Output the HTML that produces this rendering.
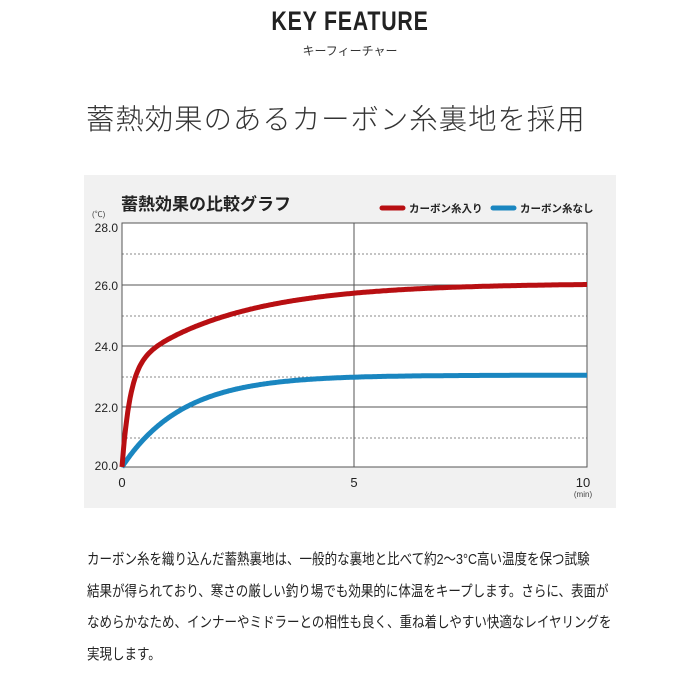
<!DOCTYPE html>
<html><head><meta charset="utf-8"><style>
html,body{margin:0;padding:0;background:#fff;width:700px;height:700px;overflow:hidden;font-family:"Liberation Sans","Noto Sans CJK JP",sans-serif;color:#222}
.t1{position:absolute;left:0;width:700px;top:6px;text-align:center;font-size:27px;font-weight:bold;letter-spacing:1px;transform:scaleX(0.79);color:#222}
.t2{position:absolute;left:0;width:700px;top:42px;text-align:center;font-size:12px;color:#333}
.h{position:absolute;left:86px;top:97px;font-size:28.4px;font-weight:300;color:#333;letter-spacing:1px;font-family:"Noto Sans CJK JP",sans-serif}
.p{position:absolute;left:87px;top:545px;font-size:14.8px;line-height:31.7px;color:#222;white-space:nowrap;transform:scaleX(0.845);transform-origin:0 0}
svg{position:absolute;left:0;top:0}
</style></head><body>
<div class="t1">KEY FEATURE</div>
<div class="t2">キーフィーチャー</div>
<div class="h">蓄熱効果のあるカーボン糸裏地を採用</div>
<svg width="700" height="700" font-family="Liberation Sans, Noto Sans CJK JP, sans-serif">
<rect x="84" y="175" width="532" height="333" fill="#f1f1f1"/>
<rect x="122" y="223" width="465" height="244" fill="#fff"/>
<g stroke="#888" stroke-dasharray="2,2" stroke-width="1">
<line x1="122" x2="587" y1="254" y2="254"/><line x1="122" x2="587" y1="316" y2="316"/>
<line x1="122" x2="587" y1="377" y2="377"/><line x1="122" x2="587" y1="438" y2="438"/></g>
<g stroke="#555" stroke-width="1">
<line x1="122" x2="587" y1="285" y2="285"/><line x1="122" x2="587" y1="346" y2="346"/>
<line x1="122" x2="587" y1="407" y2="407"/><line x1="354" x2="354" y1="223" y2="467"/>
<rect x="122" y="223" width="465" height="244" fill="none"/></g>
<path id="blue" fill="none" stroke="#1a86c0" stroke-width="5"/>
<path id="red" fill="none" stroke="#b80f12" stroke-width="5"/>
<g font-size="12" fill="#222" text-anchor="end">
<text x="118" y="232">28.0</text><text x="118" y="290">26.0</text><text x="118" y="351">24.0</text>
<text x="118" y="412">22.0</text><text x="118" y="470">20.0</text></g>
<text x="92" y="217" font-size="8" fill="#444">(℃)</text>
<g font-size="13" fill="#222" text-anchor="middle">
<text x="122" y="487">0</text><text x="354" y="487">5</text><text x="583" y="487">10</text></g>
<text x="583" y="497" font-size="8" fill="#444" text-anchor="middle">(min)</text>
<text x="121" y="210" font-size="17" font-weight="bold" fill="#222">蓄熱効果の比較グラフ</text>
<line x1="382" x2="403" y1="208" y2="208" stroke="#b80f12" stroke-width="5" stroke-linecap="round"/>
<text x="409" y="212" font-size="10.5" font-weight="bold" fill="#222">カーボン糸入り</text>
<line x1="493" x2="514" y1="208" y2="208" stroke="#1a86c0" stroke-width="5" stroke-linecap="round"/>
<text x="520" y="212" font-size="10.5" font-weight="bold" fill="#222">カーボン糸なし</text>
</svg>
<div class="p">カーボン糸を織り込んだ蓄熱裏地は、一般的な裏地と比べて約2～3°C高い温度を保つ試験<br>結果が得られており、寒さの厳しい釣り場でも効果的に体温をキープします。さらに、表面が<br>なめらかなため、インナーやミドラーとの相性も良く、重ね着しやすい快適なレイヤリングを<br>実現します。</div>
<script>
function X(t){return 122+t*46.5}function Y(v){return 467-(v-20)*30.6}
var r="",b="";
for(var i=0;i<=400;i++){var t=i/40;
var rv=20+3.2*(1-Math.exp(-t/0.17))+2.8*(1-Math.exp(-t/2.3));
var bv=20+3*(1-Math.exp(-t/1.3));
r+=(i?"L":"M")+X(t).toFixed(1)+","+Y(rv).toFixed(1);
b+=(i?"L":"M")+X(t).toFixed(1)+","+Y(bv).toFixed(1);}
document.getElementById("red").setAttribute("d",r);
document.getElementById("blue").setAttribute("d",b);
</script>
</body></html>
